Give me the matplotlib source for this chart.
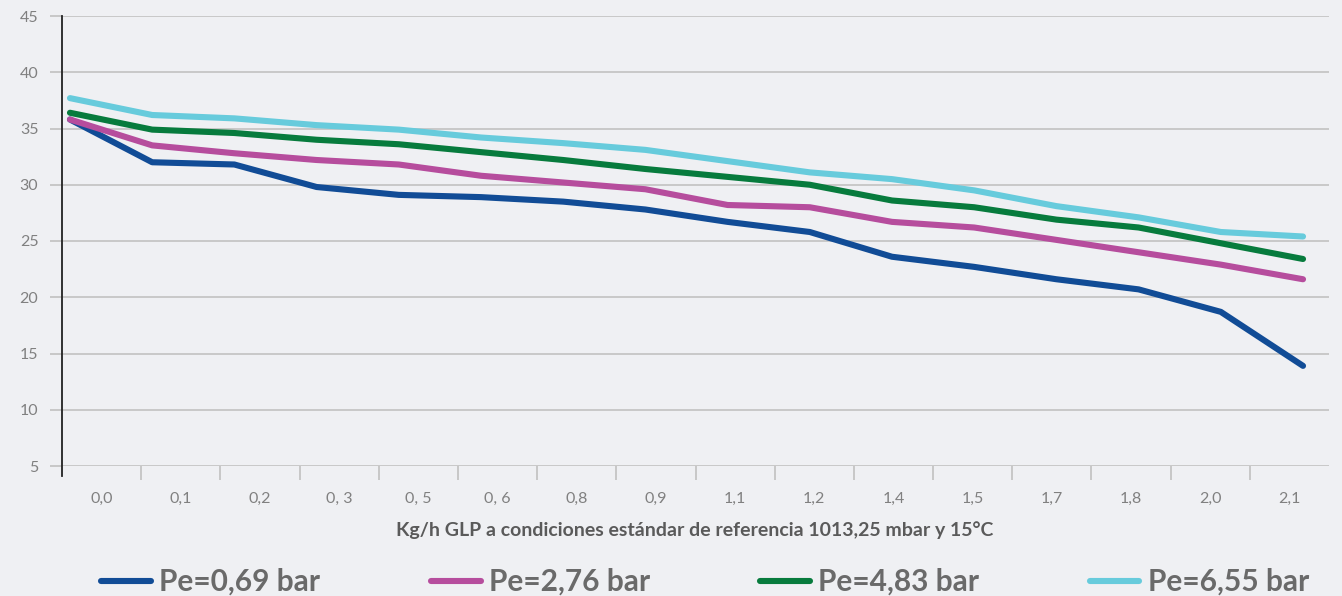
import matplotlib
matplotlib.use("Agg")
import matplotlib.pyplot as plt

# categorias del eje x (kg/h)
categorias = ["0,0", "0,1", "0,2", "0, 3", "0, 5", "0, 6", "0,8", "0,9",
              "1,1", "1,2", "1,4", "1,5", "1,7", "1,8", "2,0", "2,1"]

pe_069 = [35.8, 32.0, 31.8, 29.8, 29.1, 28.9, 28.5, 27.8,
          26.7, 25.8, 23.6, 22.7, 21.6, 20.7, 18.7, 13.9]
pe_276 = [35.8, 33.5, 32.8, 32.2, 31.8, 30.8, 30.2, 29.6,
          28.2, 28.0, 26.7, 26.2, 25.1, 24.0, 22.9, 21.6]
pe_483 = [36.4, 34.9, 34.6, 34.0, 33.6, 32.9, 32.2, 31.4,
          30.7, 30.0, 28.6, 28.0, 26.9, 26.2, 24.8, 23.4]
pe_655 = [37.7, 36.2, 35.9, 35.3, 34.9, 34.2, 33.7, 33.1,
          32.1, 31.1, 30.5, 29.5, 28.1, 27.1, 25.8, 25.4]

series = [("Pe=0,69 bar", pe_069, "#114c96"),
          ("Pe=2,76 bar", pe_276, "#b64d9d"),
          ("Pe=4,83 bar", pe_483, "#077b3d"),
          ("Pe=6,55 bar", pe_655, "#67cbdc")]

fondo = "#eff0f3"
gris = "#808080"

plt.rcParams['font.family'] = ['Lato', 'DejaVu Sans']

fig = plt.figure(figsize=(13.42, 5.96), dpi=100, facecolor=fondo)
ax = fig.add_axes([62/1342, 1 - 466/596, (1329 - 62)/1342, 450/596])
ax.set_facecolor(fondo)

# eje de categorias (etiquetas) en un eje gemelo
axc = ax.twiny()
axc.set_xlim(-0.5, len(categorias) - 0.5)
axc.xaxis.set_ticks_position("bottom")
axc.set_xticks(range(len(categorias)))
axc.set_xticklabels(categorias, fontsize=11.5, color=gris)
axc.tick_params(axis="x", which="major", length=0, pad=19)
axc.set_xticks([i + 0.5 for i in range(len(categorias) - 1)], minor=True)
axc.tick_params(axis="x", which="minor", length=10, width=1.3, color="#c4c4c4")
for s in axc.spines.values():
    s.set_visible(False)

# lineas
x = list(range(len(categorias)))
for nombre, valores, color in series:
    ax.plot(x, valores, color=color, lw=4.4, solid_capstyle="round",
            solid_joinstyle="round", label=nombre, zorder=3)

ax.set_xlim(-0.097, 15.316)
ax.set_xticks([])
ax.set_ylim(5, 45)
ax.set_yticks(range(5, 46, 5))
ax.tick_params(axis="y", length=9, width=1.3, color="#c4c4c4", labelsize=11.5,
               labelcolor=gris, pad=8)
ax.grid(axis="y", color="#c8c8c8", lw=1.4)
ax.set_axisbelow(True)
for s in ["top", "right", "bottom"]:
    ax.spines[s].set_visible(False)
ax.spines["left"].set_bounds(4.1, 45)
ax.spines["left"].set_color("#222222")
ax.spines["left"].set_linewidth(1.3)

fig.text(695/1342, 1 - 530/596,
         "Kg/h GLP a condiciones estándar de referencia 1013,25 mbar y 15°C",
         ha="center", va="center", fontsize=14, fontweight="bold", color="#5a5a5a")

fig.legend(loc="center", bbox_to_anchor=(705/1342, 1 - 582/596), ncol=4,
           frameon=False, prop={"size": 21.5, "weight": "bold"},
           labelcolor="#6a6a6a", handlelength=1.67, handletextpad=0.27,
           columnspacing=3.7)

fig.savefig("out.png", dpi=100, facecolor=fondo)
